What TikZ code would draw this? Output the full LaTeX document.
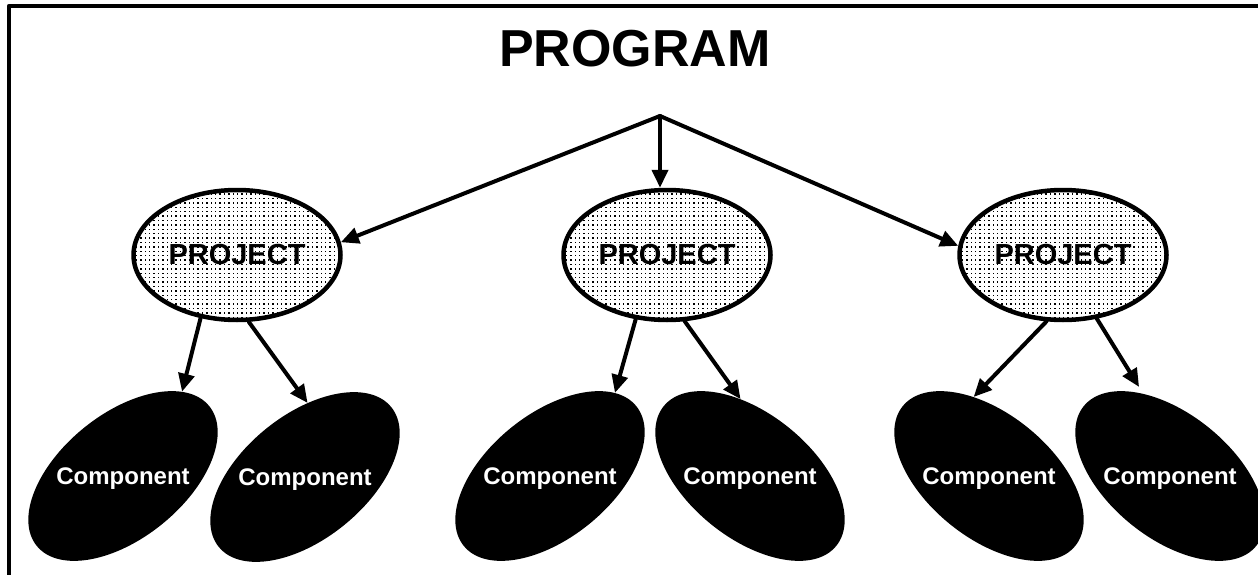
\documentclass[tikz,border=0pt]{standalone}
\usepackage{fontspec}
\setmainfont{Liberation Sans}
\usepackage{graphicx}
\usepackage{tikz}
\usetikzlibrary{arrows.meta}
\usetikzlibrary{shapes.geometric}
\newcommand{\comptext}[1]{\rotatebox{#1}{\makebox[0pt]{\smash{\raisebox{-0.36em}{Component}}}}}

\begin{document}
\begin{tikzpicture}[line cap=round,line join=round,>={Triangle[length=18pt,width=16pt]},x=1pt,y=-1pt,
  project/.style={ellipse,draw,line width=4.5pt,minimum width=207pt,minimum height=130pt,inner sep=0pt,
    path picture={\foreach \i in {-24,...,24} \foreach \j in {-16,...,16}
      \fill (path picture bounding box.center) ++(\i*4.4,\j*4.4) rectangle ++(1.3,1.3);},
    font=\fontsize{29}{32}\selectfont\bfseries},
  comp/.style={ellipse,fill=black,minimum width=222pt,minimum height=124pt,inner sep=0pt,
    text=white,font=\fontsize{24}{28}\selectfont\bfseries,rotate=#1},
  link/.style={->,line width=4pt}]
\useasboundingbox (0,0) rectangle (1258,575);
\clip (0,0) rectangle (1258,575);
\draw[line width=4.5pt,line cap=butt] (1270,6) -- (9,6) -- (9,590);
\node (title) at (635,49) {\fontsize{52}{60}\selectfont\bfseries PROGRAM};
\coordinate (apex) at (660,116);
\node[project] (p1) at (237,255) {PROJECT};
\node[project] (p2) at (667,255) {PROJECT};
\node[project] (p3) at (1063,255) {PROJECT};
\node[comp=39] (c1) at (123,476) {\comptext{-39}};
\node[comp=39] (c2) at (305,477) {\comptext{-39}};
\node[comp=39] (c3) at (550,476) {\comptext{-39}};
\node[comp=-39] (c4) at (750,476) {\comptext{39}};
\node[comp=-39] (c5) at (989,476) {\comptext{39}};
\node[comp=-39] (c6) at (1170,476) {\comptext{39}};
\draw[link] (apex) -- (p1.7);
\draw[link] (apex) -- (apex |- p2.north);
\draw[link] (apex) -- (p3.175);
\foreach \a/\b in {p1.240/c1.16,p1.280/c2.49,p2.244/c3.13,p2.285/c4.136,p3.256/c5.140}
\draw[link] (\a) -- (\b);
\draw[link,shorten >=8pt] (p3.298) -- (c6.147);
\end{tikzpicture}
\end{document}
